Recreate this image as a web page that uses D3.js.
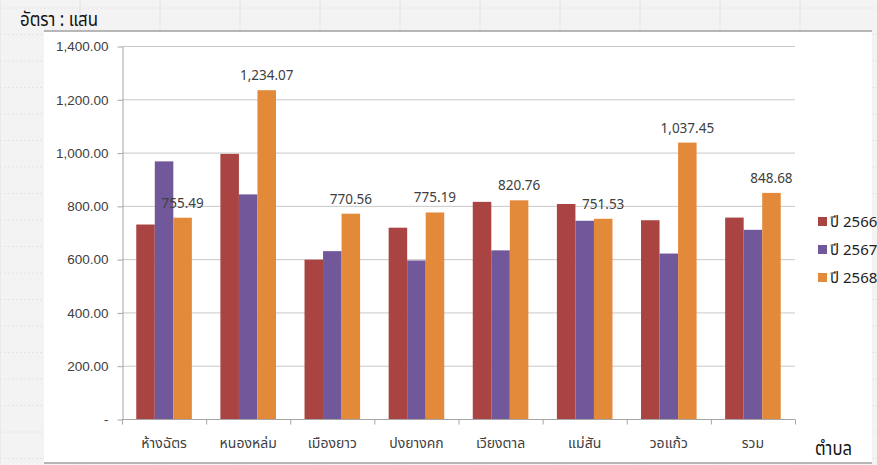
<!DOCTYPE html>
<html>
<head>
<meta charset="utf-8">
<script src="https://cdnjs.cloudflare.com/ajax/libs/d3/7.8.5/d3.min.js"></script>
<style>
  body { margin: 0; background: #f3f3f3; }
  svg { display: block; font-family: "Noto Sans Thai", "Noto Sans", "DejaVu Sans", sans-serif; }
  .grid line { stroke: #c8c8c8; }
  .axis text { fill: #404040; font-size: 12px; }
  .axis path, .axis line { stroke: #a6a6a6; }
</style>
</head>
<body>
<svg width="877" height="465"></svg>
<script>
var categories = ["ห้างฉัตร", "หนองหล่ม", "เมืองยาว", "ปงยางคก", "เวียงตาล", "แม่สัน", "วอแก้ว", "รวม"];
var series = ["ปี 2566", "ปี 2567", "ปี 2568"];
var y2566 = [730, 995, 598, 718, 815, 807, 746, 756];
var y2567 = [967, 843, 630, 595, 633, 744, 621, 710];
var y2568 = [755.49, 1234.07, 770.56, 775.19, 820.76, 751.53, 1037.45, 848.68];
var yTicks = [0, 200, 400, 600, 800, 1000, 1200, 1400];
var colors = ["#a94442", "#71589a", "#e38a3a"];

var values = [y2566, y2567, y2568];
var svg = d3.select("svg");

// spreadsheet background with faint cell lines
var bg = svg.append("g");
bg.append("rect").attr("width", 877).attr("height", 465).attr("fill", "#f3f3f3");
d3.range(0, 877, 80).forEach(function(x) {
  bg.append("line").attr("x1", x).attr("x2", x).attr("y1", 0).attr("y2", 465)
    .attr("stroke", "#e4e4e4");
});
d3.range(8, 465, 26.5).forEach(function(y) {
  bg.append("line").attr("x1", 0).attr("x2", 877).attr("y1", y).attr("y2", y)
    .attr("stroke", "#e4e4e4").attr("stroke-dasharray", "2,2");
});

// chart area
svg.append("rect").attr("x", 44).attr("y", 31).attr("width", 828).attr("height", 432)
  .attr("fill", "#fff");
svg.append("line").attr("x1", 44).attr("x2", 872).attr("y1", 31).attr("y2", 31)
  .attr("stroke", "#a0a0a0").attr("stroke-width", 1.5);
svg.append("line").attr("x1", 44).attr("x2", 872).attr("y1", 463).attr("y2", 463)
  .attr("stroke", "#a0a0a0").attr("stroke-width", 1.5);

var pLeft = 122, pRight = 795, pTop = 46, pBottom = 419;

var x = d3.scaleBand().domain(categories).range([pLeft, pRight]).padding(0);
var xs = d3.scaleBand().domain(series).range([0, x.bandwidth()]).paddingInner(0).paddingOuter(0.77);
var y = d3.scaleLinear().domain([0, 1400]).range([pBottom, pTop]);

svg.append("g").attr("class", "grid")
  .selectAll("line").data(yTicks.slice(1)).enter().append("line")
  .attr("x1", pLeft).attr("x2", pRight)
  .attr("y1", function(d) { return y(d) + 0.5; })
  .attr("y2", function(d) { return y(d) + 0.5; });

var yAxis = svg.append("g").attr("class", "axis")
  .attr("transform", "translate(" + (pLeft + 0.5) + ",0.5)")
  .call(d3.axisLeft(y).tickValues(yTicks).tickSize(5).tickSizeOuter(0)
    .tickFormat(function(d) { return d === 0 ? "-" : d3.format(",.2f")(d); }));
yAxis.selectAll("text").attr("dx", "-0.45em").style("font-size", "13.5px");

var groups = svg.append("g").selectAll("g").data(categories).enter().append("g")
  .attr("transform", function(d) { return "translate(" + x(d) + ",0)"; });

groups.selectAll("rect").data(function(c, i) {
    return series.map(function(s, j) { return {s: s, v: values[j][i], j: j}; });
  }).enter().append("rect")
  .attr("x", function(d) { return xs(d.s); })
  .attr("width", xs.bandwidth())
  .attr("y", function(d) { return y(d.v); })
  .attr("height", function(d) { return pBottom - y(d.v); })
  .attr("fill", function(d) { return colors[d.j]; });

groups.append("text")
  .attr("x", function(c) { return xs(series[2]) + xs.bandwidth() / 2; })
  .attr("y", function(c, i) { return y(y2568[i]) - 10; })
  .attr("text-anchor", "middle")
  .attr("fill", "#404040")
  .style("font-size", "13.5px")
  .text(function(c, i) { return d3.format(",.2f")(y2568[i]); });

var xAxis = svg.append("g").attr("class", "axis")
  .attr("transform", "translate(0," + (pBottom + 0.5) + ")");
xAxis.append("line").attr("x1", pLeft).attr("x2", pRight);
xAxis.selectAll(".tk").data(categories.concat([null])).enter().append("line")
  .attr("x1", function(d, i) { return pLeft + i * x.bandwidth() + 0.5; })
  .attr("x2", function(d, i) { return pLeft + i * x.bandwidth() + 0.5; })
  .attr("y1", 0).attr("y2", 5);
xAxis.selectAll(".lab").data(categories).enter().append("text")
  .attr("x", function(d) { return x(d) + x.bandwidth() / 2; })
  .attr("y", 28)
  .attr("text-anchor", "middle")
  .attr("fill", "#303030")
  .style("font-size", "14px")
  .text(function(d) { return d; });

// legend
var legend = svg.append("g").selectAll("g").data(series).enter().append("g")
  .attr("transform", function(d, i) { return "translate(818," + (222 + i * 28) + ")"; });
legend.append("rect").attr("x", 0).attr("y", -5).attr("width", 9).attr("height", 9)
  .attr("fill", function(d, i) { return colors[i]; });
legend.append("text").attr("x", 12).attr("y", 0).attr("dy", "0.35em")
  .attr("fill", "#222").style("font-size", "15px")
  .text(function(d) { return d; });

svg.append("text").attr("x", 20).attr("y", 26)
  .attr("fill", "#111").style("font-size", "20px")
  .attr("textLength", 78).attr("lengthAdjust", "spacingAndGlyphs")
  .text("อัตรา : แสน");
svg.append("text").attr("x", 815).attr("y", 455)
  .attr("fill", "#111").style("font-size", "19px")
  .attr("textLength", 37).attr("lengthAdjust", "spacingAndGlyphs")
  .text("ตำบล");
</script>
</body>
</html>
